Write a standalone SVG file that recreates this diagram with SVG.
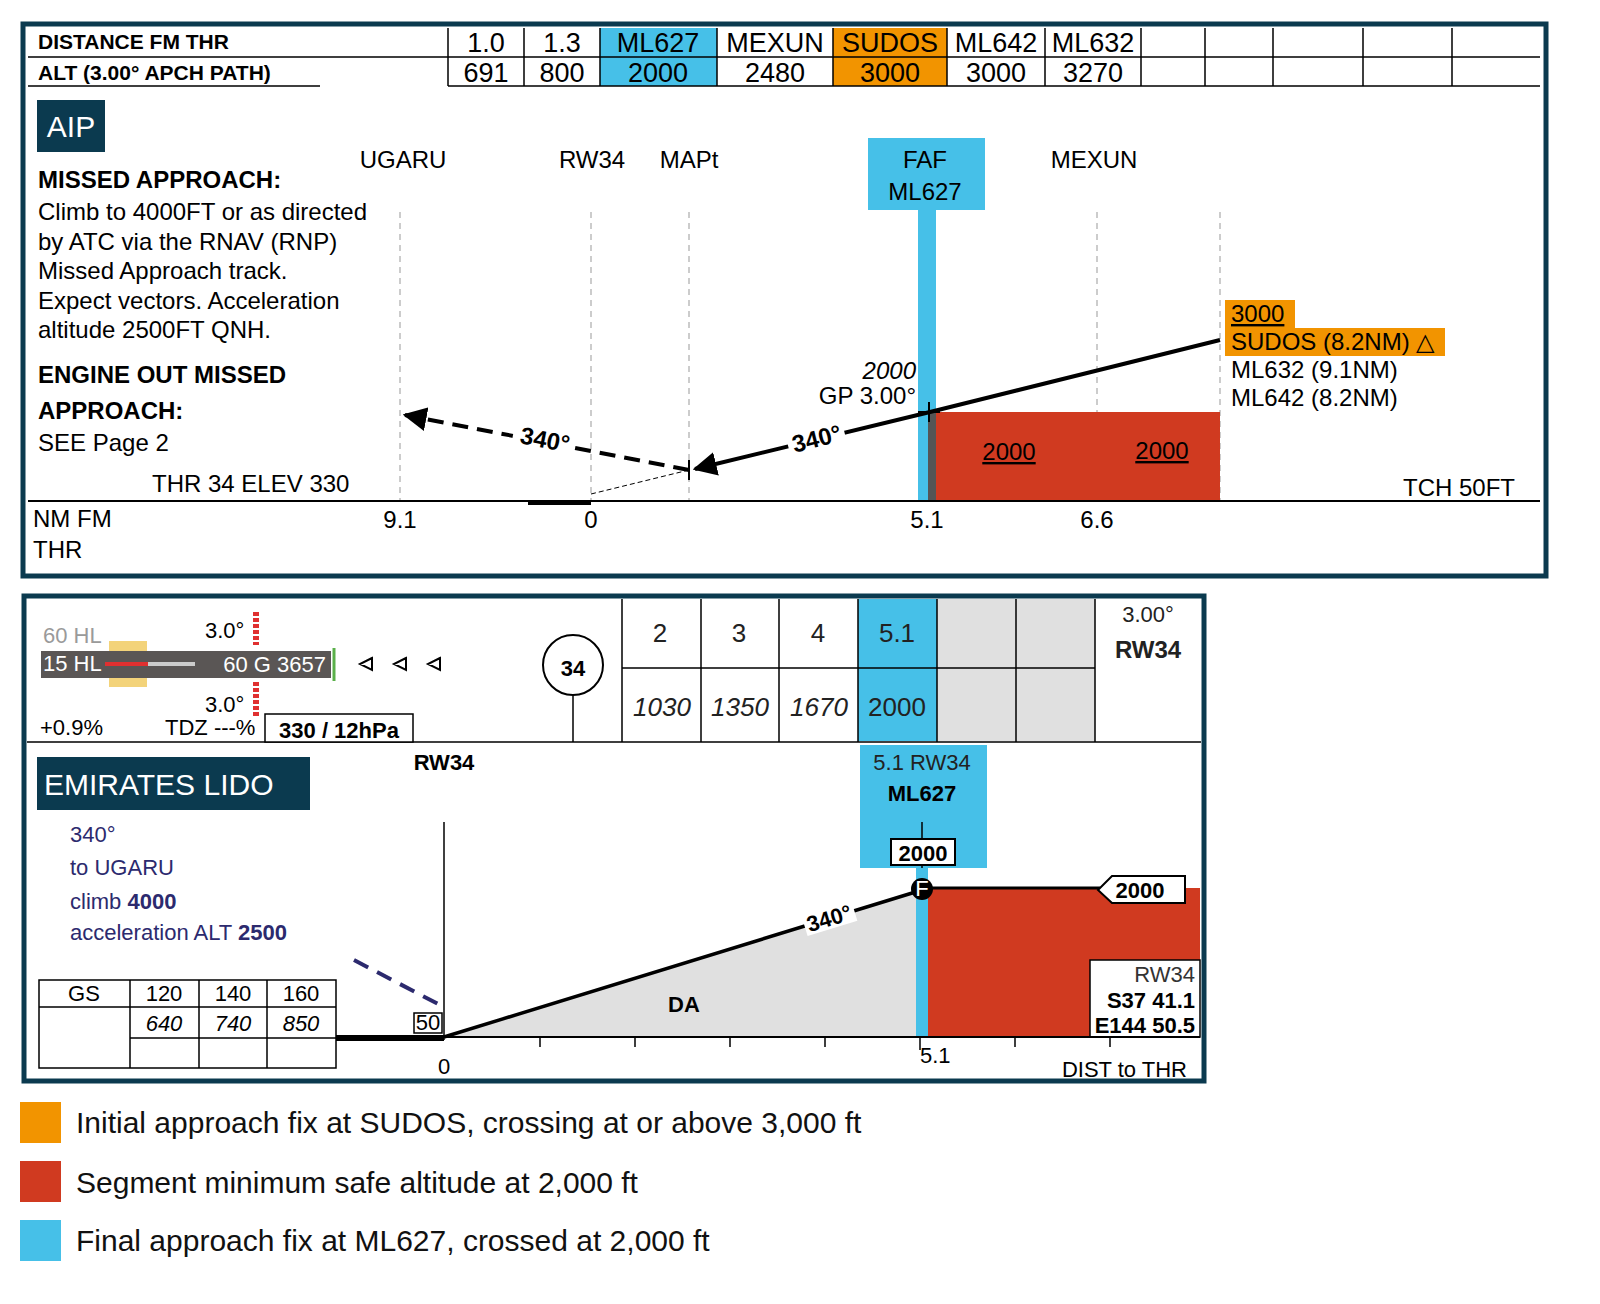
<svg xmlns="http://www.w3.org/2000/svg" width="1600" height="1304" viewBox="0 0 1600 1304">
<style>
.s{font-family:"Liberation Sans",Arial,sans-serif}
.t{font-family:"Liberation Sans",Arial,sans-serif;font-size:24px;fill:#000}
.b{font-weight:bold}
.n{font-family:"Liberation Sans Narrow","Liberation Sans",Arial,sans-serif;font-size:22px}
.d{stroke:#999;stroke-dasharray:6 5;stroke-width:1;fill:none}
.g{stroke:#000;stroke-width:1.5;fill:none}
.nv{fill:#2c2a6e}
</style>
<defs>
<marker id="ah" viewBox="0 0 10 10" refX="9" refY="5" markerWidth="6" markerHeight="6" orient="auto"><path d="M0,0L10,5L0,10z" fill="#000"/></marker>
</defs>
<rect width="1600" height="1304" fill="#fff"/>
<g id="aip">
<rect x="23" y="24" width="1523" height="552" fill="none" stroke="#0b3a4f" stroke-width="5"/>
<rect x="600" y="28" width="117" height="58" fill="#46c0e8"/>
<rect x="833" y="28" width="114" height="58" fill="#f29400"/>
<g class="g">
<path d="M28,57H1540M28,86H320M448,86H1540M448,28V86M524,28V86M600,28V86M717,28V86M833,28V86M947,28V86M1045,28V86M1141,28V86M1205,28V86M1273,28V86M1363,28V86M1452,28V86"/>
</g>
<text x="38" y="49" class="s b" font-size="21">DISTANCE FM THR</text>
<text x="38" y="80" class="s b" font-size="21">ALT (3.00° APCH PATH)</text>
<g text-anchor="middle">
<text x="486" y="52" class="s" font-size="27">1.0</text><text x="562" y="52" class="s" font-size="27">1.3</text><text x="658" y="52" class="s" font-size="27">ML627</text><text x="775" y="52" class="s" font-size="27">MEXUN</text><text x="890" y="52" class="s" font-size="27">SUDOS</text><text x="996" y="52" class="s" font-size="27">ML642</text><text x="1093" y="52" class="s" font-size="27">ML632</text>
<text x="486" y="82" class="s" font-size="27">691</text><text x="562" y="82" class="s" font-size="27">800</text><text x="658" y="82" class="s" font-size="27">2000</text><text x="775" y="82" class="s" font-size="27">2480</text><text x="890" y="82" class="s" font-size="27">3000</text><text x="996" y="82" class="s" font-size="27">3000</text><text x="1093" y="82" class="s" font-size="27">3270</text>
</g>
<rect x="37" y="100" width="68" height="52" fill="#0b3a4f"/>
<text x="71" y="137" class="s" font-size="30" fill="#fff" text-anchor="middle">AIP</text>
<text x="38" y="188" class="t b" font-size="28">MISSED APPROACH:</text>
<g class="t" font-size="21">
<text x="38" y="220">Climb to 4000FT or as directed</text>
<text x="38" y="250">by ATC via the RNAV (RNP)</text>
<text x="38" y="279">Missed Approach track.</text>
<text x="38" y="309">Expect vectors. Acceleration</text>
<text x="38" y="338">altitude 2500FT QNH.</text>
<text x="38" y="451">SEE Page 2</text>
</g>
<text x="38" y="383" class="t b" font-size="28">ENGINE OUT MISSED</text>
<text x="38" y="419" class="t b" font-size="28">APPROACH:</text>
<text x="152" y="492" class="t">THR 34 ELEV 330</text>
<text x="1403" y="496" class="t">TCH 50FT</text>
<text x="403" y="168" class="t" text-anchor="middle">UGARU</text>
<text x="592" y="168" class="t" text-anchor="middle">RW34</text>
<text x="689" y="168" class="t" text-anchor="middle">MAPt</text>
<text x="1094" y="168" class="t" text-anchor="middle">MEXUN</text>
<path class="d" d="M400,212V501M591,212V501M689,212V501M1097,212V501M1220,212V501"/>
<rect x="868" y="138" width="117" height="72" fill="#46c0e8"/>
<text x="925" y="168" class="t" text-anchor="middle">FAF</text>
<text x="925" y="200" class="t" text-anchor="middle">ML627</text>
<rect x="918" y="210" width="18" height="291" fill="#46c0e8"/>
<rect x="930" y="412" width="290" height="89" fill="#d03a20"/>
<rect x="928" y="412" width="8" height="89" fill="#555"/>
<g class="t" font-size="22" text-decoration="underline" text-anchor="middle"><text x="1009" y="460">2000</text><text x="1162" y="459">2000</text></g>
<rect x="1225" y="300" width="70" height="28" fill="#f29400"/>
<rect x="1225" y="328" width="220" height="28" fill="#f29400"/>
<text x="1231" y="322" class="t" font-size="21" text-decoration="underline">3000</text>
<text x="1231" y="350" class="t" font-size="21">SUDOS (8.2NM) △</text>
<text x="1231" y="378" class="t" font-size="21">ML632 (9.1NM)</text>
<text x="1231" y="406" class="t" font-size="21">ML642 (8.2NM)</text>
<text x="916" y="379" class="t" font-size="20" font-style="italic" text-anchor="end">2000</text>
<text x="916" y="404" class="t" font-size="20" text-anchor="end">GP 3.00°</text>
<path d="M28,501H1540" stroke="#000" stroke-width="2"/>
<path d="M528,503H591" stroke="#000" stroke-width="4"/>
<text x="33" y="527" class="t">NM FM</text><text x="33" y="558" class="t">THR</text>
<g class="t" text-anchor="middle"><text x="400" y="528">9.1</text><text x="591" y="528">0</text><text x="927" y="528">5.1</text><text x="1097" y="528">6.6</text></g>
</g>
<g id="connectors">
<path d="M1220,340L930,412L695,469" stroke="#000" stroke-width="4" fill="none" marker-end="url(#ah)"/>
<path d="M689,470L405,415" stroke="#000" stroke-width="4" stroke-dasharray="16 9" fill="none" marker-end="url(#ah)"/>
<path d="M591,494L689,470" stroke="#000" stroke-width="1" stroke-dasharray="5 3"/>
<path d="M689,460V480M918,412H940M929,402V422" stroke="#000" stroke-width="2"/>
<rect x="513" y="426" width="60" height="24" fill="#fff" transform="rotate(11 543 438)"/>
<text x="545" y="448" class="t b" font-size="22" text-anchor="middle" transform="rotate(11 545 440)">340°</text>
<rect x="787" y="426" width="58" height="24" fill="#fff" transform="rotate(-14 816 438)"/>
<text x="817" y="447" class="t b" font-size="22" text-anchor="middle" transform="rotate(-14 817 440)">340°</text>
</g>
<g id="lido">
<rect x="24" y="596" width="1180" height="485" fill="none" stroke="#0b3a4f" stroke-width="5"/>
<rect x="858" y="599" width="79" height="142" fill="#46c0e8"/>
<rect x="937" y="599" width="158" height="142" fill="#e0e0e0"/>
<path class="g" d="M27,742H1201M622,599V742M701,599V742M779,599V742M858,599V742M937,599V742M1016,599V742M1095,599V742M622,668H1095"/>
<g class="n" text-anchor="middle" fill="#222"><text x="660" y="642" font-size="26">2</text><text x="739" y="642" font-size="26">3</text><text x="818" y="642" font-size="26">4</text><text x="897" y="642" font-size="26">5.1</text>
<text x="662" y="716" font-size="26" font-style="italic">1030</text><text x="740" y="716" font-size="26" font-style="italic">1350</text><text x="819" y="716" font-size="26" font-style="italic">1670</text><text x="897" y="716" font-size="26">2000</text>
<text x="1148" y="622">3.00°</text><text x="1148" y="658" font-weight="bold" font-size="24">RW34</text></g>
<rect x="109" y="641" width="38" height="46" fill="#f3d37a"/>
<rect x="41" y="651" width="290" height="27" fill="#5a5655"/>
<path d="M105,664H195" stroke="#ccc" stroke-width="4"/><path d="M105,664H148" stroke="#e03030" stroke-width="4"/>
<path d="M334,648V681" stroke="#5ab04a" stroke-width="3"/>
<text x="43" y="643" class="n" font-size="19" fill="#9a9a9a">60 HL</text>
<text x="43" y="671" class="n" font-size="19" fill="#fff">15 HL</text>
<text x="326" y="672" class="n" font-size="22" fill="#fff" text-anchor="end">60 G 3657</text>
<text x="205" y="638" class="n" font-size="22">3.0°</text><text x="205" y="712" class="n" font-size="22">3.0°</text>
<path d="M256,612V645M256,682V718" stroke="#e03030" stroke-width="6" stroke-dasharray="4 2"/>
<g fill="none" stroke="#000" stroke-width="2"><path d="M372,658L360,664L372,670zM406,658L394,664L406,670zM440,658L428,664L440,670z"/></g>
<text x="40" y="735" class="n" font-size="19">+0.9%</text><text x="165" y="735" class="n" font-size="19">TDZ ---%</text>
<rect x="265" y="714" width="148" height="28" fill="#fff" stroke="#000" stroke-width="1.5"/>
<text x="339" y="738" class="n" font-size="22" text-anchor="middle" font-weight="bold">330 / 12hPa</text>
<circle cx="573" cy="665" r="30" fill="#fff" stroke="#000" stroke-width="2"/>
<text x="573" y="676" class="n" font-size="28" font-weight="bold" text-anchor="middle">34</text>
<path d="M573,695V742" stroke="#000" stroke-width="1.5"/>
<rect x="37" y="757" width="273" height="53" fill="#0b3a4f"/>
<text x="44" y="795" class="s" font-size="30" fill="#fff">EMIRATES LIDO</text>
<g class="n nv" font-size="24"><text x="70" y="842">340°</text><text x="70" y="875">to UGARU</text><text x="70" y="909">climb <tspan font-weight="bold">4000</tspan></text><text x="70" y="940">acceleration ALT <tspan font-weight="bold">2500</tspan></text></g>
<text x="444" y="770" class="n" font-size="22" font-weight="bold" text-anchor="middle">RW34</text>
<rect x="860" y="745" width="127" height="123" fill="#46c0e8"/>
<text x="922" y="770" class="n" font-size="22" text-anchor="middle" fill="#222">5.1 RW34</text>
<text x="922" y="801" class="n" font-size="22" font-weight="bold" text-anchor="middle">ML627</text>
<rect x="891" y="839" width="64" height="26" fill="#fff" stroke="#000" stroke-width="2"/>
<text x="923" y="861" class="n" font-size="22" font-weight="bold" text-anchor="middle">2000</text>
<path d="M922,822V839M922,865V880" stroke="#000" stroke-width="1.5"/>
<path d="M444,822V1040" stroke="#000" stroke-width="1.5"/>
<polygon points="444,1037 922,890 922,1037" fill="#e0e0e0"/>
<rect x="928" y="888" width="272" height="149" fill="#d03a20"/>
<rect x="916" y="868" width="12" height="169" fill="#46c0e8"/>
<path d="M922,888H1100" stroke="#000" stroke-width="3"/>
<path d="M1098,890L1112,876H1185V903H1112z" fill="#fff" stroke="#000" stroke-width="2"/>
<text x="1140" y="898" class="n" font-size="22" font-weight="bold" text-anchor="middle">2000</text>
<rect x="1090" y="960" width="110" height="77" fill="#fff" stroke="#000" stroke-width="1.5"/>
<g class="n" font-size="21" text-anchor="end"><text x="1195" y="982" fill="#333">RW34</text><text x="1195" y="1008" font-weight="bold">S37 41.1</text><text x="1195" y="1033" font-weight="bold">E144 50.5</text></g>
<path d="M444,1037L922,890" stroke="#000" stroke-width="3.5"/>
<circle cx="922" cy="889" r="11" fill="#000"/><text x="922" y="896" class="n" font-size="15" fill="#fff" text-anchor="middle">F</text>
<rect x="803" y="905" width="52" height="24" fill="#fff" transform="rotate(-17 829 917)"/>
<text x="829" y="926" class="n" font-size="22" font-weight="bold" text-anchor="middle" transform="rotate(-17 829 918)">340°</text>
<text x="684" y="1012" class="n" font-size="28" font-weight="bold" text-anchor="middle">DA</text>
<path d="M354,960L440,1005" stroke="#2c2a6e" stroke-width="4" stroke-dasharray="16 10"/>
<path d="M336,1038H444" stroke="#000" stroke-width="6"/>
<path d="M444,1037H1200" stroke="#000" stroke-width="2"/>
<path class="g" d="M540,1037V1047M635,1037V1047M730,1037V1047M825,1037V1047M1015,1037V1047M1110,1037V1047M920,1037V1050"/>
<rect x="414" y="1013" width="28" height="20" fill="#fff" stroke="#000" stroke-width="1.5"/>
<text x="428" y="1030" class="n" font-size="16" text-anchor="middle">50</text>
<text x="444" y="1074" class="n" font-size="20" text-anchor="middle">0</text>
<text x="920" y="1063" class="n" font-size="17">5.1</text>
<text x="1187" y="1077" class="n" font-size="20" text-anchor="end">DIST to THR</text>
<path class="g" d="M39,980H336V1068H39zM39,1007H336M130,1038H336M130,980V1068M199,980V1068M267,980V1068"/>
<g class="n" font-size="21" text-anchor="middle"><text x="84" y="1001">GS</text><text x="164" y="1001">120</text><text x="233" y="1001">140</text><text x="301" y="1001">160</text>
<text x="164" y="1031" font-style="italic">640</text><text x="233" y="1031" font-style="italic">740</text><text x="301" y="1031" font-style="italic">850</text></g>
</g>
<g id="legend">
<rect x="20" y="1102" width="41" height="41" fill="#f29400"/>
<rect x="20" y="1161" width="41" height="41" fill="#d03a20"/>
<rect x="20" y="1220" width="41" height="41" fill="#46c0e8"/>
<g class="s" font-size="30" fill="#111"><text x="76" y="1133">Initial approach fix at SUDOS, crossing at or above 3,000 ft</text><text x="76" y="1193">Segment minimum safe altitude at 2,000 ft</text><text x="76" y="1251">Final approach fix at ML627, crossed at 2,000 ft</text></g>
</g>
</svg>
